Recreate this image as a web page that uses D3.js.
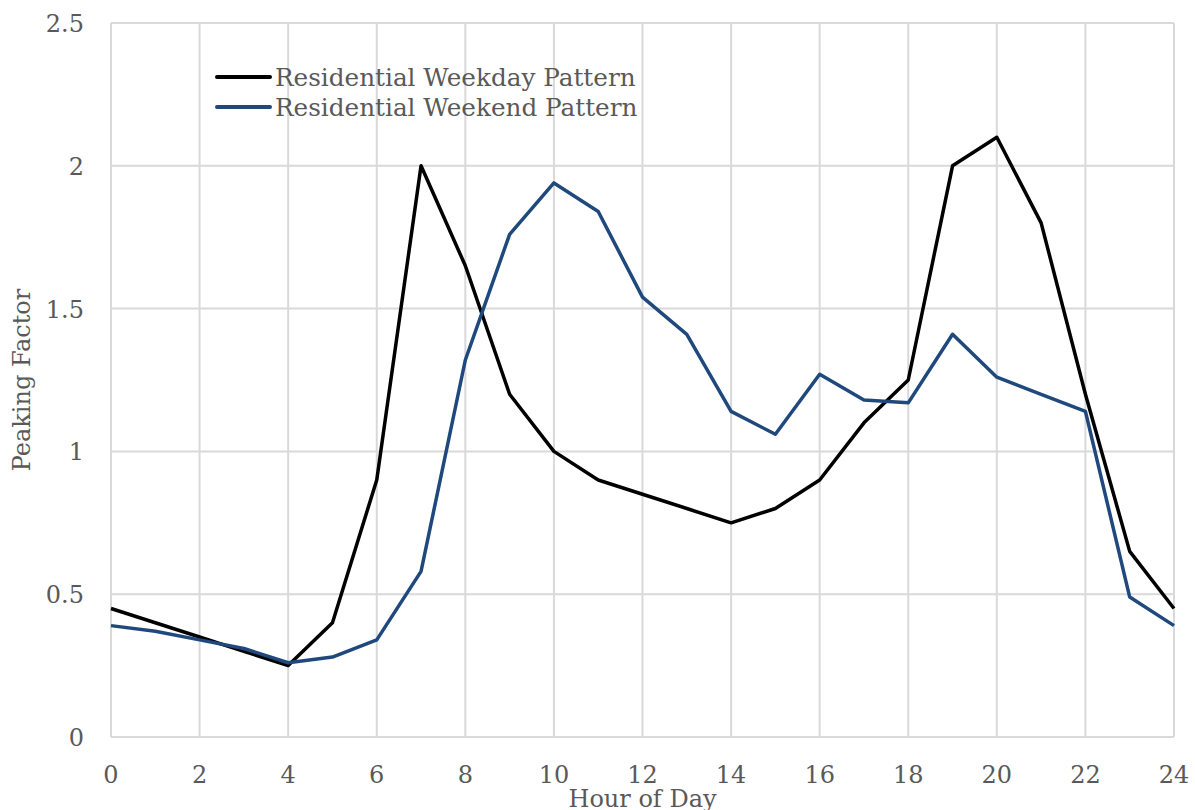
<!DOCTYPE html>
<html>
<head>
<meta charset="utf-8">
<script src="https://cdn.jsdelivr.net/npm/d3@7"></script>
<style>
  body { margin: 0; background: #fff; }
  svg text { font-family: "DejaVu Serif", "Liberation Serif", serif; fill: #595959; }
</style>
</head>
<body>
<div id="chart"></div>
<script>
// hours and peaking factors
const hours = d3.range(0, 25);
const weekday = [0.45, 0.40, 0.35, 0.30, 0.25, 0.40, 0.90, 2.00, 1.65, 1.20, 1.00, 0.90, 0.85,
                 0.80, 0.75, 0.80, 0.90, 1.10, 1.25, 2.00, 2.10, 1.80, 1.20, 0.65, 0.45];
const weekend = [0.39, 0.37, 0.34, 0.31, 0.26, 0.28, 0.34, 0.58, 1.32, 1.76, 1.94, 1.84, 1.54,
                 1.41, 1.14, 1.06, 1.27, 1.18, 1.17, 1.41, 1.26, 1.20, 1.14, 0.49, 0.39];
const xTicks = d3.range(0, 25, 2);
const yTicks = [0, 0.5, 1, 1.5, 2, 2.5];
const seriesNames = ["Residential Weekday Pattern", "Residential Weekend Pattern"];
const seriesColors = ["#000000", "#1f497d"];

const width = 1195, height = 810;
const margin = {top: 23, right: 21, bottom: 73, left: 111};

const svg = d3.select("#chart").append("svg")
    .attr("width", width)
    .attr("height", height);

const x = d3.scaleLinear().domain([0, 24]).range([margin.left, width - margin.right]);
const y = d3.scaleLinear().domain([0, 2.5]).range([height - margin.bottom, margin.top]);

// grid lines
svg.append("g").selectAll("line.v")
    .data(xTicks)
    .enter().append("line")
    .attr("x1", d => x(d)).attr("x2", d => x(d))
    .attr("y1", y(0)).attr("y2", y(2.5))
    .attr("stroke", "#d9d9d9").attr("stroke-width", 2);

svg.append("g").selectAll("line.h")
    .data(yTicks)
    .enter().append("line")
    .attr("x1", x(0)).attr("x2", x(24))
    .attr("y1", d => y(d)).attr("y2", d => y(d))
    .attr("stroke", "#d9d9d9").attr("stroke-width", 2);

// tick labels
svg.append("g").selectAll("text")
    .data(xTicks)
    .enter().append("text")
    .attr("x", d => x(d))
    .attr("y", y(0) + 46)
    .attr("text-anchor", "middle")
    .style("font-size", "24px")
    .text(d => d);

svg.append("g").selectAll("text")
    .data(yTicks)
    .enter().append("text")
    .attr("x", 84)
    .attr("y", d => y(d) + 9)
    .attr("text-anchor", "end")
    .style("font-size", "24px")
    .text(d => d);

// axis titles
svg.append("text")
    .attr("x", x(12))
    .attr("y", 807)
    .attr("text-anchor", "middle")
    .style("font-size", "24px")
    .text("Hour of Day");

svg.append("text")
    .attr("transform", `translate(30, ${y(1.25)}) rotate(-90)`)
    .attr("text-anchor", "middle")
    .style("font-size", "24px")
    .text("Peaking Factor");

// lines
const line = d3.line()
    .x((d, i) => x(hours[i]))
    .y(d => y(d));

[weekday, weekend].forEach((s, i) => {
    svg.append("path")
        .datum(s)
        .attr("fill", "none")
        .attr("stroke", seriesColors[i])
        .attr("stroke-width", 3.5)
        .attr("stroke-linejoin", "round")
        .attr("d", line);
});

// legend
const legend = svg.append("g").attr("transform", "translate(217, 77)");
seriesNames.forEach((name, i) => {
    const g = legend.append("g").attr("transform", `translate(0, ${i * 30})`);
    g.append("line")
        .attr("x1", 0).attr("x2", 53)
        .attr("stroke", seriesColors[i])
        .attr("stroke-width", 4)
        .attr("stroke-linecap", "round");
    g.append("text")
        .attr("x", 58)
        .attr("y", 9)
        .style("font-size", "24.7px")
        .text(name);
});
</script>
</body>
</html>
